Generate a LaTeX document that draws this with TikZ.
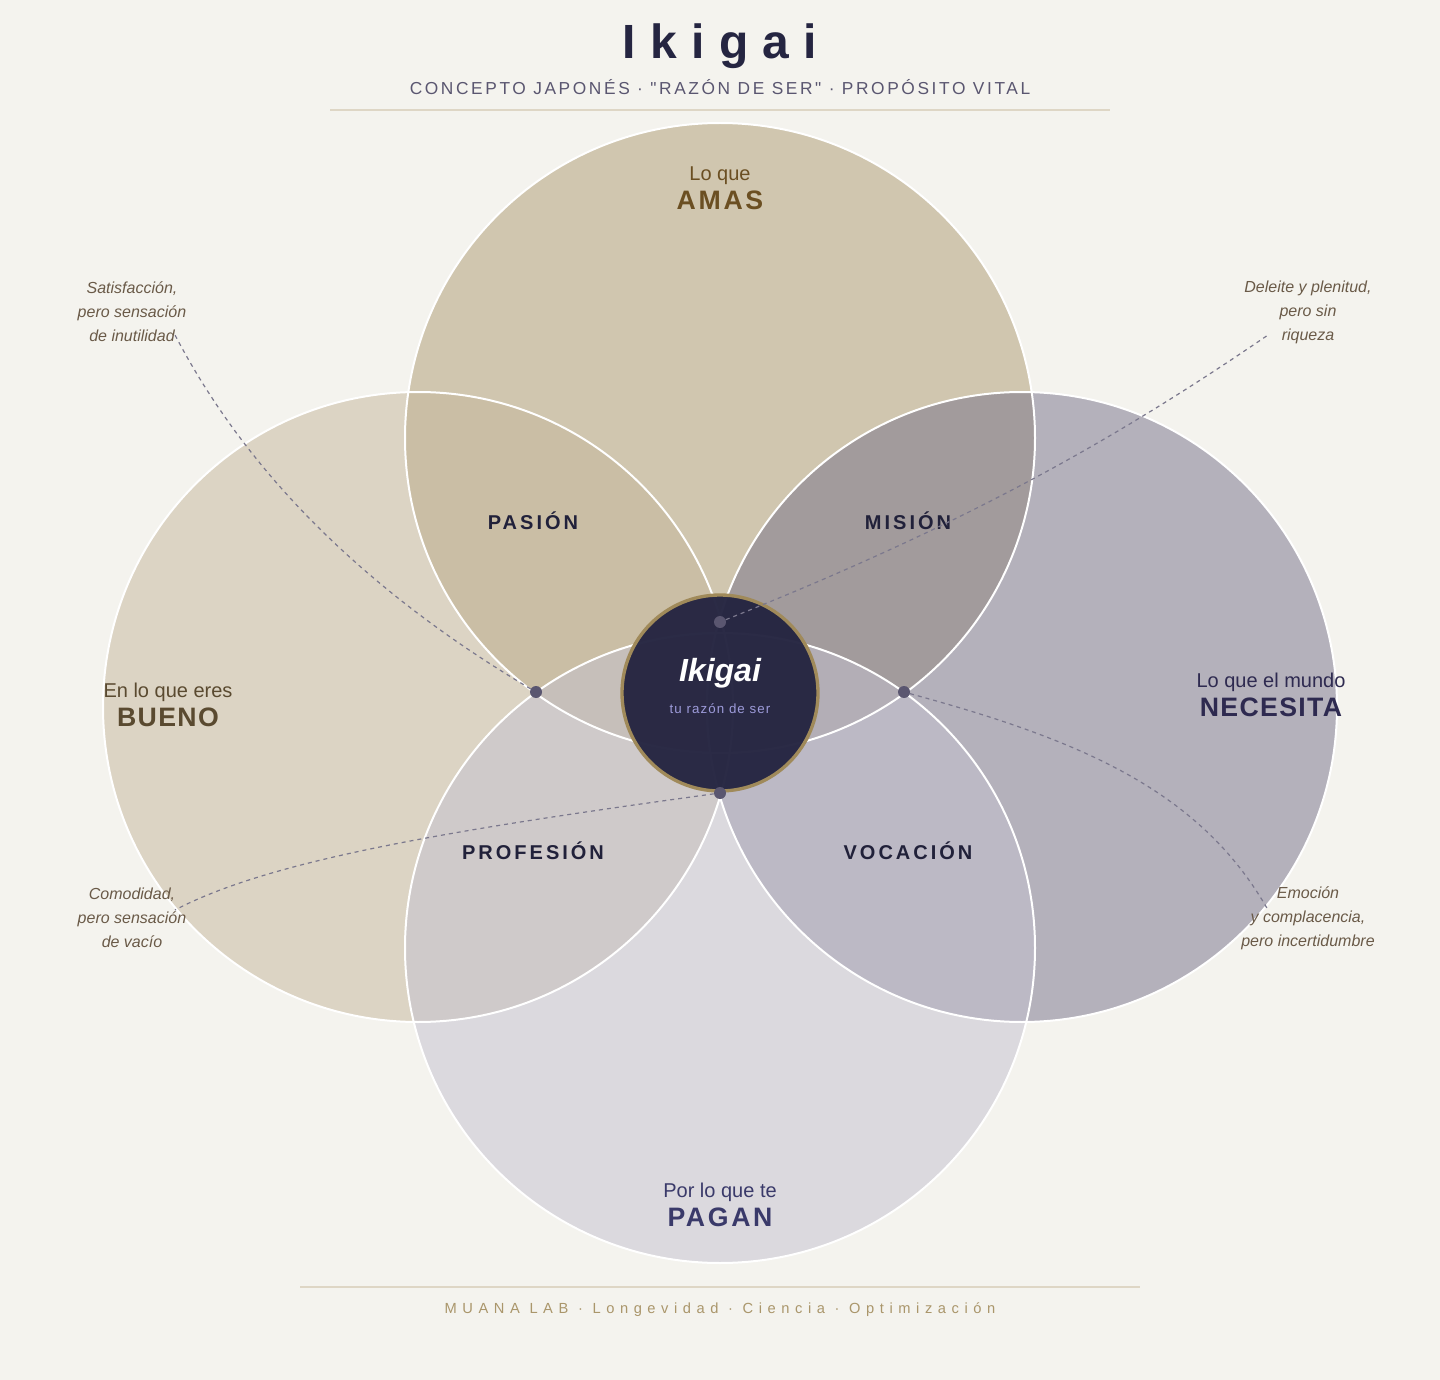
\documentclass[tikz,border=0pt]{standalone}
\usepackage{fontspec}
\setmainfont{Liberation Sans}
\newfontfamily\plainsans{Liberation Sans}
\definecolor{bg}{HTML}{F4F3EE}
\definecolor{ctop}{RGB}{174,155,114}
\definecolor{cleft}{RGB}{198,183,156}
\definecolor{cright}{RGB}{118,113,138}
\definecolor{cbot}{RGB}{196,193,208}
\definecolor{navy}{HTML}{252541}
\definecolor{gold}{HTML}{A08A5A}
\definecolor{dotc}{HTML}{5A5670}
\definecolor{note}{HTML}{6A5A48}
\definecolor{amasc}{HTML}{6B4F22}
\definecolor{buenoc}{HTML}{5A4A30}
\definecolor{necc}{HTML}{2E2A50}
\definecolor{pagc}{HTML}{3A3A6A}
\newcommand{\fs}[1]{\fontsize{#1}{#1}\selectfont}
\newcommand{\ls}[1]{\addfontfeature{LetterSpace=#1}}
\begin{document}
\begin{tikzpicture}[x=0.75pt,y=-0.75pt,
  inter/.style={font=\fs{15}\bfseries\ls{15},text=navy!90!black},
  notes/.style={font=\fs{12}\itshape,text=note,align=center},
  main/.style={align=center},
  dashc/.style={dashed,draw=dotc!80,line width=0.9pt},
  dot/.style={circle,fill=dotc,inner sep=0pt,minimum size=9pt}]
\fill[bg] (0,0) rectangle (1440,1380);
\useasboundingbox (0,0) rectangle (1440,1380);
% circles
\fill[ctop,fill opacity=0.5] (720,438) circle (315);
\fill[cleft,fill opacity=0.5] (418,707) circle (315);
\fill[cright,fill opacity=0.5] (1022,707) circle (315);
\fill[cbot,fill opacity=0.5] (720,948) circle (315);
\foreach \p in {(720,438),(418,707),(1022,707),(720,948)}
  \draw[white,line width=1.5pt] \p circle (315);
% title
\node[text=navy,font=\fs{36}\bfseries\ls{30}] (title) at (720,46) {Ikigai};
\node[text=dotc,font=\plainsans\fs{13}\ls{15}] (sub) at (720,87) {CONCEPTO JAPONÉS · "RAZÓN DE SER" · PROPÓSITO VITAL};
\draw[gold!35,line width=1pt] (330,110) -- (1110,110);
\draw[gold!35,line width=1pt] (300,1287) -- (1140,1287);
\node[text=gold!90,font=\fs{11}\ls{38}] (foot) at (720,1310) {MUANA LAB · Longevidad · Ciencia · Optimización};
% main labels
\node[main,text=amasc] (amas) at (720,188) {\fs{15}Lo que\\[4pt]\fs{20}\bfseries\ls{10}AMAS};
\node[main,text=buenoc] (bueno) at (168,705) {\fs{15}En lo que eres\\[4pt]\fs{20}\bfseries\ls{5}BUENO};
\node[main,text=necc] (nec) at (1271,695) {\fs{15}Lo que el mundo\\[4pt]\fs{20}\bfseries\ls{5}NECESITA};
\node[main,text=pagc] (pagan) at (720,1205) {\fs{15}Por lo que te\\[4pt]\fs{20}\bfseries\ls{10}PAGAN};
\node[inter] (pas) at (533,521) {PASIÓN};
\node[inter] (mis) at (908,521) {MISIÓN};
\node[inter] (pro) at (533,851) {PROFESIÓN};
\node[inter] (voc) at (908,851) {VOCACIÓN};
% notes
\node[notes] (n1) at (132,312) {Satisfacción,\\[6pt]pero sensación\\[6pt]de inutilidad};
\node[notes] (n2) at (1308,312) {Deleite y plenitud,\\[6pt]pero sin\\[6pt]riqueza};
\node[notes] (n3) at (132,918) {Comodidad,\\[6pt]pero sensación\\[6pt]de vacío};
\node[notes] (n4) at (1308,918) {Emoción\\[6pt]y complacencia,\\[6pt]pero incertidumbre};
% centre
\draw[gold,line width=2.5pt,fill=navy,fill opacity=0.97] (720,693) circle (98);
\node[text=white,font=\fs{24}\bfseries\itshape] (ctxt) at (720,673) {Ikigai};
\node[text=cbot!80!blue,font=\fs{10}\ls{8}] (csub) at (720,709) {tu razón de ser};
% dots and dashes
\coordinate (e1) at (175,335);
\coordinate (e2) at (1268,335);
\coordinate (e3) at (175,910);
\coordinate (e4) at (1268,910);
\node[dot] (d1) at (536,692) {};
\node[dot] (d2) at (720,622) {};
\node[dot] (d3) at (720,793) {};
\node[dot] (d4) at (904,692) {};
\draw[dashc] (d1) .. controls (330,570) and (230,440) .. (e1);
\draw[dashc] (d2) .. controls (950,530) and (1100,450) .. (e2);
\draw[dashc] (d3) .. controls (450,830) and (270,860) .. (e3);
\draw[dashc] (d4) .. controls (1080,740) and (1200,790) .. (e4);
\end{tikzpicture}
\end{document}
